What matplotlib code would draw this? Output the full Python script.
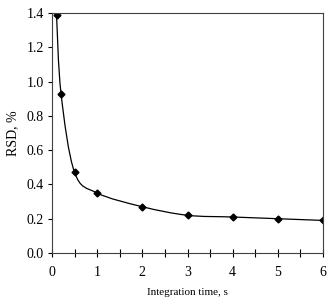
import numpy as np
import matplotlib
matplotlib.use('Agg')
import matplotlib.pyplot as plt
from matplotlib.path import Path
from matplotlib.patches import PathPatch
from matplotlib.ticker import MultipleLocator

# data
time_s = [0.1, 0.2, 0.5, 1, 2, 3, 4, 5, 6]
rsd_pct = [1.39, 0.93, 0.47, 0.35, 0.27, 0.22, 0.21, 0.20, 0.19]

plt.rcParams['font.family'] = ['Liberation Serif', 'DejaVu Serif']
plt.rcParams['font.size'] = 10


# smoothed line like a spreadsheet chart (Catmull-Rom -> cubic bezier)
def smooth_path(x, y, t=0.5):
    x = np.asarray(x, float)
    y = np.asarray(y, float)
    pts = np.column_stack([x, y])
    verts = [pts[0]]
    codes = [Path.MOVETO]
    n = len(pts)
    for i in range(n - 1):
        p0 = pts[max(i - 1, 0)]
        p1 = pts[i]
        p2 = pts[i + 1]
        p3 = pts[min(i + 2, n - 1)]
        c1 = p1 + (p2 - p0) * t / 3
        c2 = p2 - (p3 - p1) * t / 3
        verts += [c1, c2, p2]
        codes += [Path.CURVE4] * 3
    return Path(verts, codes)


fig = plt.figure(figsize=(3.31, 3.02), dpi=100)
ax = fig.add_axes([52 / 331, 1 - 253 / 302, 271 / 331, 240 / 302])

ax.add_patch(PathPatch(smooth_path(time_s, rsd_pct), facecolor='none',
                       edgecolor='black', linewidth=0.9))
ax.plot(time_s, rsd_pct, linestyle='none', marker='D', markersize=3.5,
        color='black')

ax.set_xlim(0, 6)
ax.set_ylim(0, 1.4)
ax.xaxis.set_major_locator(MultipleLocator(1))
ax.xaxis.set_minor_locator(MultipleLocator(0.5))
ax.yaxis.set_major_locator(MultipleLocator(0.2))
ax.yaxis.set_major_formatter(plt.FormatStrFormatter('%.1f'))
ax.tick_params(axis='x', which='both', direction='inout', length=6, width=0.8, pad=6)
ax.tick_params(axis='y', direction='out', length=3, width=0.8, pad=3)

for sp in ax.spines.values():
    sp.set_linewidth(0.8)
    sp.set_color('#404040')

ax.set_xlabel('Integration time, s', fontsize=8, labelpad=7)
ax.set_ylabel('RSD, %', labelpad=5)

fig.savefig('out.png', dpi=100)
